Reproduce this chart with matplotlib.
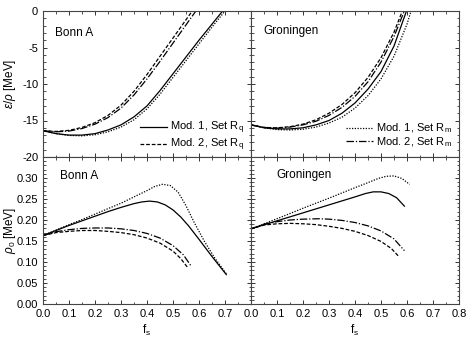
import matplotlib
matplotlib.use("Agg")
import matplotlib.pyplot as plt
from matplotlib.ticker import MultipleLocator

plt.rcParams['font.family'] = ['Liberation Sans', 'DejaVu Sans']
plt.rcParams['mathtext.fontset'] = 'custom'
plt.rcParams['mathtext.rm'] = 'Liberation Sans'
plt.rcParams['mathtext.it'] = 'Liberation Sans:italic'
plt.rcParams['axes.unicode_minus'] = False

# ---- daten: energie pro teilchen (oben) ----
fs_e = [0.0, 0.05, 0.1, 0.15, 0.2, 0.25, 0.3, 0.35, 0.4, 0.45, 0.5, 0.55, 0.6, 0.65, 0.7, 0.75]
bonn_e_m1q = [-16.4, -16.8, -17.0, -17.0, -16.8, -16.3, -15.6, -14.5, -13.0, -10.9, -8.6, -6.3, -4.0, -1.8, 0.4, 2.5]
bonn_e_m1m = [-16.4, -16.8, -17.05, -17.1, -16.95, -16.55, -15.9, -14.9, -13.4, -11.4, -9.1, -6.8, -4.5, -2.2, 0.0, 2.2]
bonn_e_m2q = [-16.4, -16.5, -16.35, -15.95, -15.3, -14.3, -12.9, -11.0, -8.7, -6.2, -3.7, -1.2, 1.3, 3.5, 5.0, 6.0]
bonn_e_m2m = [-16.4, -16.55, -16.45, -16.1, -15.5, -14.6, -13.3, -11.5, -9.3, -6.9, -4.4, -1.9, 0.6, 3.0, 5.0, 6.0]

fs_eg = [0.0, 0.05, 0.1, 0.15, 0.2, 0.25, 0.3, 0.35, 0.4, 0.45, 0.5, 0.55, 0.6, 0.65]
gron_e_m1q = [-15.6, -16.0, -16.15, -16.15, -16.0, -15.6, -15.0, -14.0, -12.6, -10.7, -8.3, -4.8, 0.2, 5.0]
gron_e_m1m = [-15.6, -16.0, -16.25, -16.3, -16.2, -15.9, -15.35, -14.55, -13.3, -11.6, -9.3, -6.2, -1.8, 4.0]
gron_e_m2q = [-15.6, -15.95, -16.0, -15.85, -15.5, -14.9, -14.0, -12.8, -11.2, -9.1, -6.4, -2.9, 1.6, 6.0]
gron_e_m2m = [-15.6, -15.95, -16.05, -15.9, -15.6, -15.1, -14.3, -13.2, -11.7, -9.7, -7.0, -3.5, 0.9, 6.0]

# ---- daten: saettigungsdichte (unten) ----
fs_b1 = [0.0, 0.05, 0.1, 0.15, 0.2, 0.25, 0.3, 0.35, 0.38, 0.41, 0.44, 0.47, 0.5, 0.53, 0.56, 0.6, 0.65, 0.705]
bonn_r_m1q = [0.163, 0.175, 0.187, 0.198, 0.209, 0.220, 0.230, 0.239, 0.243, 0.245, 0.243, 0.236, 0.224, 0.207, 0.186, 0.154, 0.113, 0.070]
fs_b2 = [0.0, 0.05, 0.1, 0.15, 0.2, 0.25, 0.3, 0.35, 0.4, 0.43, 0.46, 0.49, 0.52, 0.55, 0.58, 0.62, 0.66, 0.705]
bonn_r_m1m = [0.163, 0.176, 0.189, 0.201, 0.214, 0.227, 0.240, 0.255, 0.270, 0.280, 0.285, 0.282, 0.266, 0.234, 0.196, 0.150, 0.110, 0.072]
fs_b3 = [0.0, 0.05, 0.1, 0.15, 0.2, 0.25, 0.3, 0.35, 0.4, 0.45, 0.5, 0.53, 0.555]
bonn_r_m2q = [0.163, 0.170, 0.173, 0.175, 0.175, 0.173, 0.170, 0.165, 0.157, 0.145, 0.126, 0.108, 0.088]
fs_b4 = [0.0, 0.05, 0.1, 0.15, 0.2, 0.25, 0.3, 0.35, 0.4, 0.45, 0.5, 0.54, 0.57]
bonn_r_m2m = [0.163, 0.172, 0.177, 0.180, 0.181, 0.181, 0.179, 0.175, 0.168, 0.157, 0.139, 0.117, 0.090]

fs_g1 = [0.0, 0.1, 0.2, 0.3, 0.4, 0.44, 0.47, 0.5, 0.53, 0.56, 0.59]
gron_r_m1q = [0.179, 0.198, 0.217, 0.236, 0.255, 0.263, 0.267, 0.267, 0.263, 0.253, 0.233]
fs_g2 = [0.0, 0.1, 0.2, 0.3, 0.4, 0.45, 0.49, 0.52, 0.55, 0.58, 0.61]
gron_r_m1m = [0.179, 0.203, 0.228, 0.252, 0.277, 0.289, 0.299, 0.304, 0.305, 0.299, 0.285]
fs_g3 = [0.0, 0.05, 0.1, 0.15, 0.2, 0.25, 0.3, 0.35, 0.4, 0.45, 0.5, 0.54, 0.57]
gron_r_m2q = [0.179, 0.188, 0.191, 0.192, 0.191, 0.189, 0.185, 0.180, 0.173, 0.163, 0.149, 0.132, 0.112]
fs_g4 = [0.0, 0.05, 0.1, 0.15, 0.2, 0.26, 0.3, 0.35, 0.4, 0.45, 0.5, 0.55, 0.59]
gron_r_m2m = [0.179, 0.190, 0.196, 0.200, 0.202, 0.203, 0.202, 0.199, 0.194, 0.186, 0.174, 0.155, 0.127]

sty_m1q = dict(color='black', lw=0.9, ls='-')
sty_m1m = dict(color='black', lw=0.9, ls=(0, (1, 1.2)))
sty_m2q = dict(color='black', lw=0.9, ls=(0, (3, 1.5)))
sty_m2m = dict(color='black', lw=0.9, ls=(0, (6, 1.5, 1, 1.5)))

fig = plt.figure(figsize=(4.69, 3.41), dpi=100)
L, M, R = 43 / 469, 251 / 469, 459 / 469
T, H, B = 1 - 11 / 341, 1 - 157 / 341, 1 - 304 / 341
ax_tl = fig.add_axes([L, H, M - L, T - H])
ax_tr = fig.add_axes([M, H, R - M, T - H])
ax_bl = fig.add_axes([L, B, M - L, H - B])
ax_br = fig.add_axes([M, B, R - M, H - B])

ax_tl.plot(fs_e, bonn_e_m1q, **sty_m1q, label='Mod. 1, Set R$_\\mathrm{q}$')
ax_tl.plot(fs_e, bonn_e_m2q, **sty_m2q, label='Mod. 2, Set R$_\\mathrm{q}$')
ax_tl.plot(fs_e, bonn_e_m1m, **sty_m1m)
ax_tl.plot(fs_e, bonn_e_m2m, **sty_m2m)

ax_tr.plot(fs_eg, gron_e_m1m, **sty_m1m, label='Mod. 1, Set R$_\\mathrm{m}$')
ax_tr.plot(fs_eg, gron_e_m2m, **sty_m2m, label='Mod. 2, Set R$_\\mathrm{m}$')
ax_tr.plot(fs_eg, gron_e_m1q, **sty_m1q)
ax_tr.plot(fs_eg, gron_e_m2q, **sty_m2q)

ax_bl.plot(fs_b1, bonn_r_m1q, **sty_m1q)
ax_bl.plot(fs_b2, bonn_r_m1m, **sty_m1m)
ax_bl.plot(fs_b3, bonn_r_m2q, **sty_m2q)
ax_bl.plot(fs_b4, bonn_r_m2m, **sty_m2m)

ax_br.plot(fs_g1, gron_r_m1q, **sty_m1q)
ax_br.plot(fs_g2, gron_r_m1m, **sty_m1m)
ax_br.plot(fs_g3, gron_r_m2q, **sty_m2q)
ax_br.plot(fs_g4, gron_r_m2m, **sty_m2m)

for ax in (ax_tl, ax_tr, ax_bl, ax_br):
    ax.set_xlim(0, 0.8)
    ax.xaxis.set_major_locator(MultipleLocator(0.1))
    ax.xaxis.set_minor_locator(MultipleLocator(0.05))
    ax.tick_params(which='both', direction='in', top=True, right=True, labelsize=8, colors='#333333', labelcolor='black')
    ax.tick_params(which='major', length=3, width=0.7)
    ax.tick_params(which='minor', length=1.8, width=0.6)
    for s in ax.spines.values():
        s.set_linewidth(0.8)
        s.set_color('#444444')

for ax in (ax_tl, ax_tr):
    ax.set_ylim(-20, 0)
    ax.yaxis.set_major_locator(MultipleLocator(5))
    ax.yaxis.set_minor_locator(MultipleLocator(1))
    ax.tick_params(labelbottom=False)
for ax in (ax_bl, ax_br):
    ax.set_ylim(0, 0.35)
    ax.yaxis.set_major_locator(MultipleLocator(0.05))
    ax.yaxis.set_minor_locator(MultipleLocator(0.01))
    ax.set_xlabel('f$_\\mathrm{s}$', fontsize=8.5, labelpad=3)
for ax in (ax_tr, ax_br):
    ax.tick_params(labelleft=False)

ax_bl.set_xticks([0.0, 0.1, 0.2, 0.3, 0.4, 0.5, 0.6, 0.7])
ax_bl.set_xticklabels(['0.0', '0.1', '0.2', '0.3', '0.4', '0.5', '0.6', '0.7'])
ax_bl.set_yticks([0.0, 0.05, 0.1, 0.15, 0.2, 0.25, 0.3])
ax_bl.set_yticklabels(['0.00', '0.05', '0.10', '0.15', '0.20', '0.25', '0.30'])
ax_br.set_xticks([0.0, 0.1, 0.2, 0.3, 0.4, 0.5, 0.6, 0.7, 0.8])
ax_br.set_xticklabels(['0.0', '0.1', '0.2', '0.3', '0.4', '0.5', '0.6', '0.7', '0.8'])

ax_tl.set_ylabel('$\\mathit{\\epsilon/\\rho}$ [MeV]', fontsize=8.5)
ax_bl.set_ylabel('$\\rho_\\mathrm{0}$ [MeV]', fontsize=8.5)
ax_tl.yaxis.set_label_coords(-0.12, 0.5)
ax_bl.yaxis.set_label_coords(-0.12, 0.5)

ax_tl.text(0.06, 0.83, 'Bonn A', transform=ax_tl.transAxes, fontsize=8.5)
ax_tr.text(0.06, 0.84, 'Groningen', transform=ax_tr.transAxes, fontsize=8.5)
ax_bl.text(0.08, 0.85, 'Bonn A', transform=ax_bl.transAxes, fontsize=8.5)
ax_br.text(0.12, 0.86, 'Groningen', transform=ax_br.transAxes, fontsize=8.5)

ax_tl.legend(loc='lower right', bbox_to_anchor=(1.0, -0.02), frameon=False, fontsize=8,
             handlelength=2.4, handletextpad=0.3, labelspacing=0.05, borderaxespad=0.2)
ax_tr.legend(loc='lower right', bbox_to_anchor=(1.0, 0.01), frameon=False, fontsize=8,
             handlelength=2.4, handletextpad=0.3, labelspacing=0.0, borderaxespad=0.2)

fig.savefig('out.png', dpi=100)
